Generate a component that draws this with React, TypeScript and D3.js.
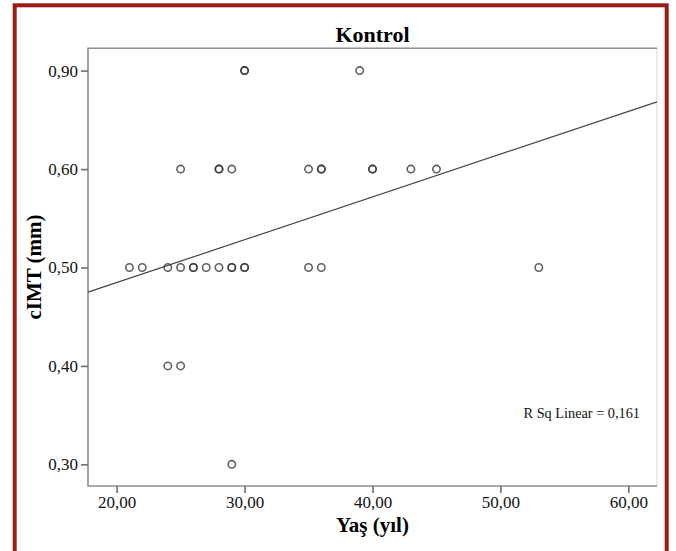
import React, { useEffect, useRef } from 'react';
import * as d3 from 'd3';

// Kontrol group: age (yaş) vs cIMT
const ages = [30, 30, 39, 25, 28, 28, 29, 35, 36, 36, 40, 40, 43, 45, 21, 22, 24, 25, 26, 26, 27, 28, 29, 29, 30, 30, 35, 36, 53, 24, 25, 29];
const cimt = [0.9, 0.9, 0.9, 0.6, 0.6, 0.6, 0.6, 0.6, 0.6, 0.6, 0.6, 0.6, 0.6, 0.6, 0.5, 0.5, 0.5, 0.5, 0.5, 0.5, 0.5, 0.5, 0.5, 0.5, 0.5, 0.5, 0.5, 0.5, 0.5, 0.4, 0.4, 0.3];
const xTicks = [20, 30, 40, 50, 60];
const yTicks = [0.3, 0.4, 0.5, 0.6, 0.9];
// fit line end points
const fitX = [17.76, 62.24];
const fitY = [0.475, 0.805];
const rSqLabel = 'R Sq Linear = 0,161';
const title = 'Kontrol';
const xTitle = 'Yaş (yıl)';
const yTitle = 'cIMT (mm)';

const W = 676;
const H = 551;
const left = 88, right = 657, top = 48.3, bottom = 486;
const font = '"Liberation Serif", "Times New Roman", serif';

const comma = (v: number) => d3.format('.2f')(v).replace('.', ',');

const App = () => {
  const ref = useRef<SVGSVGElement>(null);

  useEffect(() => {
    const svg = d3.select(ref.current);
    svg.selectAll('*').remove();

    const x = d3.scaleLinear().domain([17.76, 62.24]).range([left, right]);
    // the axis of the original is not evenly spaced above 0,60
    const y = d3.scaleLinear().domain([0.278, 0.6, 0.968]).range([bottom, 169.1, top]);

    svg.append('rect')
      .attr('width', W).attr('height', H).attr('fill', '#fff');

    // outer red frame
    svg.append('rect')
      .attr('x', 14.7).attr('y', 5.3)
      .attr('width', 652).attr('height', 620)
      .attr('fill', 'none')
      .attr('stroke', '#9b1c14')
      .attr('stroke-width', 4);

    // plot frame
    svg.append('line')
      .attr('x1', right).attr('x2', right).attr('y1', top).attr('y2', bottom)
      .attr('stroke', '#e4e4e4').attr('stroke-width', 1.5);
    svg.append('path')
      .attr('d', `M${right},${top}H${left}V${bottom}H${right}`)
      .attr('fill', 'none')
      .attr('stroke', '#8c8c8c')
      .attr('stroke-width', 1.6);

    const xAxis = svg.append('g')
      .attr('transform', `translate(0,${bottom})`)
      .call(d3.axisBottom(x).tickValues(xTicks).tickSize(7).tickPadding(3).tickFormat(d => comma(+d)));
    const yAxis = svg.append('g')
      .attr('transform', `translate(${left},0)`)
      .call(d3.axisLeft(y).tickValues(yTicks).tickSize(7).tickPadding(3).tickFormat(d => comma(+d)));

    [xAxis, yAxis].forEach(g => {
      g.select('.domain').remove();
      g.selectAll('line').attr('stroke', '#6e6e6e').attr('stroke-width', 1.6);
      g.selectAll('text')
        .attr('fill', '#111')
        .attr('font-family', font)
        .attr('font-size', 17);
    });

    // fit line
    const line = d3.line<number>().x(i => x(fitX[i])).y(i => y(fitY[i]));
    svg.append('path')
      .attr('d', line([0, 1]))
      .attr('fill', 'none')
      .attr('stroke', '#444')
      .attr('stroke-width', 1.2);

    // points
    svg.append('g')
      .selectAll('circle')
      .data(d3.range(ages.length))
      .join('circle')
      .attr('cx', i => x(ages[i]))
      .attr('cy', i => y(cimt[i]))
      .attr('r', 3.7)
      .attr('fill', 'none')
      .attr('stroke', '#333')
      .attr('stroke-opacity', 0.78)
      .attr('stroke-width', 1.6);

    svg.append('text')
      .attr('x', 640).attr('y', 418)
      .attr('text-anchor', 'end')
      .attr('font-family', font)
      .attr('font-size', 14.3)
      .attr('fill', '#111')
      .text(rSqLabel);

    svg.append('text')
      .attr('x', (left + right) / 2).attr('y', 41.5)
      .attr('text-anchor', 'middle')
      .attr('font-family', font)
      .attr('font-weight', 'bold')
      .attr('font-size', 22)
      .attr('fill', '#000')
      .text(title);

    svg.append('text')
      .attr('x', (left + right) / 2).attr('y', 532)
      .attr('text-anchor', 'middle')
      .attr('font-family', font)
      .attr('font-weight', 'bold')
      .attr('font-size', 21)
      .attr('fill', '#000')
      .text(xTitle);

    svg.append('text')
      .attr('transform', `translate(41,267) rotate(-90)`)
      .attr('text-anchor', 'middle')
      .attr('font-family', font)
      .attr('font-weight', 'bold')
      .attr('font-size', 21)
      .attr('fill', '#000')
      .text(yTitle);
  }, []);

  return (
    <svg ref={ref} width={W} height={H}
      style={{ position: 'absolute', left: 0, top: 0, display: 'block' }} />
  );
};

export default App;
